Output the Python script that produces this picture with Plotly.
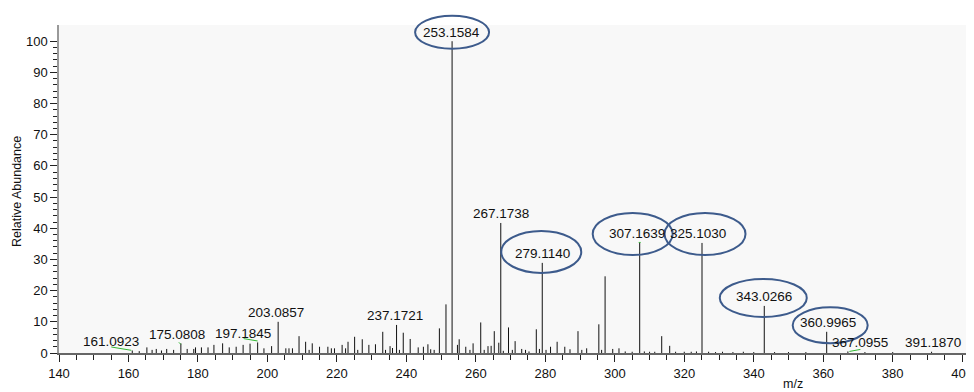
import plotly.graph_objects as go

# ---------------- data ----------------
mz = [161.0923, 163.1, 165.3, 166.8, 168.0, 169.5, 171.0, 173.0, 175.0808, 176.9,
      178.8, 179.3, 181.0, 182.9, 184.6, 187.1, 189.0, 191.0, 193.0, 195.0,
      197.1845, 199.0, 201.2, 203.0857, 205.3, 206.2, 207.2, 209.1, 211.0, 212.0,
      212.9, 215.0, 217.4, 218.4, 219.3, 221.5, 222.5, 223.2, 225.1, 226.0,
      227.3, 229.2, 231.1, 233.2, 234.0, 235.3, 236.0, 237.1721, 238.0, 239.1,
      241.1, 243.4, 244.9, 246.2, 247.0, 248.0, 249.5, 251.4, 253.1584, 254.7,
      255.2, 257.1, 258.3, 259.2, 261.4, 262.4, 263.5, 264.4, 265.3, 266.6,
      267.1738, 267.9, 269.4, 270.5, 271.3, 273.2, 274.3, 275.3, 277.4, 278.3,
      279.1140, 280.2, 281.5, 283.4, 285.6, 287.1, 289.4, 290.5, 291.9, 295.4,
      296.2, 297.2, 299.4, 301.2, 303.0, 305.0, 307.1639, 308.5, 310.0, 311.5,
      313.5, 315.8, 317.5, 320.0, 322.0, 323.5, 325.1030, 327.0, 329.0, 331.0,
      334.0, 337.0, 340.0, 343.0266, 346.0, 350.0, 355.0, 360.9965, 367.0955, 372.0,
      380.0, 391.1870]
abundance = [0.8, 0.6, 1.8, 1.0, 1.3, 0.8, 1.3, 1.0, 3.1, 1.3,
             1.3, 1.8, 1.8, 1.8, 2.6, 3.1, 1.8, 2.0, 2.6, 3.0,
             3.4, 1.5, 2.2, 10.0, 1.5, 1.5, 1.5, 5.4, 3.6, 1.0,
             3.1, 2.0, 2.0, 1.5, 1.5, 2.6, 1.5, 3.6, 5.2, 1.0,
             4.4, 2.6, 2.8, 6.8, 1.0, 2.2, 1.6, 9.0, 1.0, 6.5,
             4.5, 1.8, 2.0, 2.8, 1.2, 1.0, 7.9, 15.6, 100.0, 2.6,
             4.4, 2.0, 1.0, 3.1, 9.8, 1.0, 2.2, 2.3, 7.0, 3.3,
             41.7, 0.7, 8.2, 1.0, 3.8, 1.3, 1.0, 0.5, 7.6, 1.3,
             28.9, 1.0, 2.0, 3.6, 2.0, 1.2, 7.0, 1.0, 1.5, 9.2,
             1.0, 24.6, 1.3, 1.5, 0.5, 0.4, 35.3, 0.5, 0.4, 0.4,
             5.4, 2.3, 0.4, 0.4, 0.4, 0.5, 35.3, 0.4, 0.3, 0.4,
             0.3, 0.4, 0.3, 15.1, 0.3, 0.3, 0.3, 6.8, 0.5, 0.3,
             0.3, 0.4]

label_mz = [161.0923, 175.0808, 197.1845, 203.0857, 237.1721, 253.1584, 267.1738,
            279.1140, 307.1639, 325.1030, 343.0266, 360.9965, 367.0955, 391.1870]
label_dx = [-21, -4, -15, -2, -2, -1, 0, 0, -3, -4, 0, 1, 12, 1]
circled = [253.1584, 279.1140, 307.1639, 325.1030, 343.0266, 360.9965]
# ellipse (center offset from label centre dx, dy, radius rx, ry) in pixels
circ_geom = [(1, 0, 37, 16.5), (-1, 2, 40, 21), (-4, 0, 40, 21),
             (7, 0, 40.5, 21), (-1, -1, 43.5, 19), (2.5, -2.5, 37.5, 18)]
leaders = {161.0923: (-21, 3.5, -1, 0.2), 175.0808: (-2, 1, 0, -1),
           197.1845: (-14, 3.8, 0, 1.4), 307.1639: (-1, 0.5, 1, 0.5),
           367.0955: (1.5, 0, 12.5, 2)}

x_range = [140, 403.4]
y_range = [0, 105.2]

# page body has an 8px default margin; figure is sized to fill the rest
BODY = 8
FIG_W, FIG_H = 974 - BODY, 392 - BODY
M_L, M_T, M_B = 59 - BODY, 25 - BODY, 39
PLOT_W = FIG_W - M_L
PLOT_H = FIG_H - M_T - M_B

# ---------------- sticks ----------------
xs, ys = [], []
for m, a in zip(mz, abundance):
    xs += [m, m, None]
    ys += [0, a, None]

fig = go.Figure(go.Scatter(x=xs, y=ys, mode="lines",
                           line=dict(color="#111111", width=1),
                           hoverinfo="skip", showlegend=False))

height_of = dict(zip(mz, abundance))
FAM = "Liberation Sans, Arial, sans-serif"
font = dict(family=FAM, size=13.5, color="#111111")
LABEL_DY = 9  # label centre above peak tip in px


def xdom(v):
    return (v - x_range[0]) / (x_range[1] - x_range[0])


def ydom(v):
    return (v - y_range[0]) / (y_range[1] - y_range[0])


for m, dx in zip(label_mz, label_dx):
    h = height_of[m]
    fig.add_annotation(x=m, y=h, xref="x", yref="y", text=f"{m:.4f}",
                       showarrow=False, xanchor="center", yanchor="middle",
                       xshift=dx, yshift=LABEL_DY, font=font)
    if m in circled:
        cdx, cdy, rx, ry = circ_geom[circled.index(m)]
        cx = dx + cdx
        cy = LABEL_DY + cdy
        fig.add_shape(type="circle", xref="x domain", yref="y domain",
                      xsizemode="pixel", ysizemode="pixel",
                      xanchor=xdom(m), yanchor=ydom(h),
                      x0=cx - rx, x1=cx + rx, y0=cy - ry, y1=cy + ry,
                      line=dict(color="#3d5b8c", width=2), fillcolor="rgba(0,0,0,0)")
    if m in leaders:
        x0, y0, x1, y1 = leaders[m]
        fig.add_shape(type="line", xref="x domain", yref="y domain",
                      xsizemode="pixel", ysizemode="pixel",
                      xanchor=xdom(m), yanchor=ydom(h),
                      x0=x0, y0=y0, x1=x1, y1=y1,
                      line=dict(color="#33b833", width=1))

# axis titles as annotations (window-pixel positions converted to paper units)
fig.add_annotation(text="Relative Abundance", xref="paper", yref="paper",
                   x=(17 - 59) / PLOT_W, y=(353 - 192) / PLOT_H, textangle=-90,
                   showarrow=False, xanchor="center", yanchor="middle",
                   font=dict(family=FAM, size=12.5, color="#111111"))
fig.add_annotation(text="m/z", xref="paper", yref="paper",
                   x=(793 - 59) / PLOT_W, y=-(384 - 353) / PLOT_H,
                   showarrow=False, xanchor="center", yanchor="middle",
                   font=dict(family=FAM, size=12.5, color="#111111"))

fig.update_layout(
    width=FIG_W, height=FIG_H,
    margin=dict(l=M_L, r=0, t=M_T, b=M_B, autoexpand=False),
    paper_bgcolor="white", plot_bgcolor="#f8f8f8",
    showlegend=False,
)
fig.update_xaxes(range=x_range, tickmode="linear", tick0=140, dtick=20,
                 ticks="outside", ticklen=7, tickcolor="#222", tickwidth=1,
                 ticklabeloverflow="allow",
                 minor=dict(dtick=5, tick0=140, ticks="outside", ticklen=5, tickcolor="#222"),
                 showgrid=False, zeroline=False, showline=True, linecolor="#666", linewidth=2,
                 tickfont=dict(family=FAM, size=13, color="#111"))
fig.update_yaxes(range=y_range, tickmode="array", tickvals=list(range(0, 101, 10)),
                 ticks="outside", ticklen=7, tickcolor="#222", tickwidth=1,
                 minor=dict(tickmode="array", tickvals=list(range(0, 101, 2)),
                            ticks="outside", ticklen=4, tickcolor="#222"),
                 showgrid=False, zeroline=False, showline=True, linecolor="#999", linewidth=1.5,
                 tickfont=dict(family=FAM, size=13, color="#111"))

fig.write_html("out.html")
